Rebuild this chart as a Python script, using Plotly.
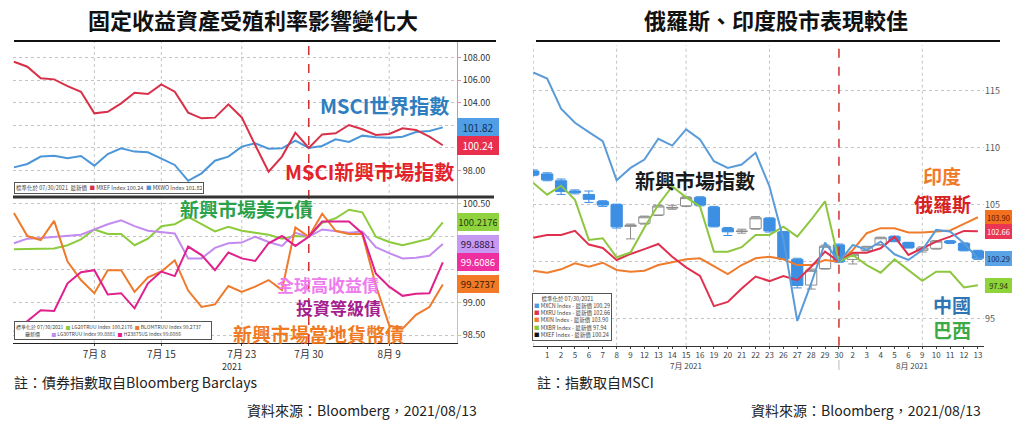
import plotly.graph_objects as go

W, H = 1024, 425
CJK = "Noto Sans CJK TC"

# trading days shown on both charts
dates = ["2021-06-30", "2021-07-01", "2021-07-02", "2021-07-05", "2021-07-06", "2021-07-07",
         "2021-07-08", "2021-07-09", "2021-07-12", "2021-07-13", "2021-07-14", "2021-07-15",
         "2021-07-16", "2021-07-19", "2021-07-20", "2021-07-21", "2021-07-22", "2021-07-23",
         "2021-07-26", "2021-07-27", "2021-07-28", "2021-07-29", "2021-07-30", "2021-08-02",
         "2021-08-03", "2021-08-04", "2021-08-05", "2021-08-06", "2021-08-09", "2021-08-10",
         "2021-08-11", "2021-08-12", "2021-08-13"]
week_marks = ["2021-07-08", "2021-07-15", "2021-07-23", "2021-07-30", "2021-08-09"]
week_labels = ["7月 8", "7月 15", "7月 23", "7月 30", "8月 9"]
day_labels = [d[-2:].lstrip("0") for d in dates[1:]]

# ---- left chart: equities (upper) ----
msci_world = [98.29, 98.59, 99.24, 99.32, 99.09, 99.29, 98.44, 99.47, 99.97, 99.68, 99.62,
              99.09, 98.50, 97.10, 97.76, 98.88, 99.24, 100.12, 100.41, 99.94, 99.97, 100.65,
              100.00, 100.18, 100.76, 100.53, 101.09, 100.94, 100.91, 101.00, 101.41, 101.50, 101.82]
msci_em = [107.62, 107.18, 106.15, 106.06, 105.47, 104.97, 103.06, 103.20, 103.94, 104.88, 104.76,
           105.62, 104.97, 103.12, 102.62, 102.68, 103.85, 102.70, 100.26, 97.91, 99.24, 101.35,
           100.00, 101.20, 101.30, 102.03, 101.65, 101.15, 101.24, 101.74, 101.59, 101.00, 100.24]

# ---- left chart: bonds (lower) ----
em_usd_bond = [99.81, 99.81, 99.81, 99.82, 99.87, 99.96, 100.11, 100.04, 100.04, 99.87, 99.97,
               100.16, 100.19, 100.30, 100.19, 100.08, 100.15, 100.09, 100.06, 100.03, 99.97, 100.01,
               100.00, 100.21, 100.28, 100.41, 100.37, 100.00, 99.92, 99.87, 99.92, 99.97, 100.2176]
lavender_bond = [99.90, 99.97, 99.98, 100.00, 100.01, 100.03, 100.11, 100.19, 100.25, 100.16, 100.09,
                 100.07, 100.05, 99.67, 99.67, 99.83, 99.90, 99.91, 100.00, 99.92, 99.86, 100.06,
                 100.00, 100.11, 100.08, 100.06, 100.08, 99.84, 99.75, 99.67, 99.68, 99.71, 99.8881]
magenta_bond = [98.55, 98.72, 98.88, 98.87, 99.29, 99.46, 99.49, 99.12, 99.14, 98.91, 99.29,
                99.47, 99.40, 99.85, 99.72, 99.49, 99.76, 99.67, 99.63, 99.90, 100.01, 99.86,
                100.00, 100.23, 100.23, 100.23, 100.05, 99.44, 99.24, 99.10, 99.13, 99.14, 99.6086]
em_local_bond = [100.36, 100.01, 99.95, 100.24, 99.62, 99.34, 99.14, 99.49, 99.49, 99.16, 99.38,
                 99.47, 99.64, 99.18, 98.93, 98.97, 99.25, 99.16, 99.24, 99.34, 99.19, 100.14,
                 100.00, 100.35, 100.09, 100.04, 100.04, 99.26, 98.65, 98.60, 98.81, 98.93, 99.2737]

# ---- right chart ----
china = [116.60, 116.07, 113.42, 112.19, 111.37, 110.57, 107.14, 108.23, 108.96, 110.78, 110.19,
         111.60, 110.72, 108.81, 108.23, 108.52, 109.55, 106.60, 102.00, 94.80, 98.09, 101.68,
         100.00, 101.47, 101.03, 101.76, 100.65, 100.15, 101.03, 102.79, 102.65, 101.62, 100.29]
russia = [102.10, 102.34, 102.34, 102.70, 101.50, 101.20, 100.15, 100.68, 101.10, 101.55, 100.44,
          99.50, 98.75, 96.10, 96.47, 97.65, 98.70, 98.30, 98.74, 98.38, 99.56, 100.88,
          100.00, 100.79, 100.79, 101.18, 102.20, 100.59, 101.18, 101.76, 102.20, 102.70, 102.66]
india = [99.21, 99.03, 99.33, 99.86, 99.56, 99.91, 99.27, 99.12, 99.21, 99.71, 99.95,
         100.21, 100.30, 99.62, 98.92, 99.71, 100.30, 100.44, 100.21, 99.70, 99.70, 100.15,
         100.00, 101.03, 102.50, 102.94, 102.94, 102.56, 102.56, 102.65, 102.74, 103.32, 103.90]
brazil = [106.90, 105.88, 106.67, 105.44, 101.91, 102.06, 100.39, 100.80, 103.00, 105.00, 106.60,
          105.64, 104.85, 100.88, 100.88, 101.27, 102.35, 102.35, 103.08, 102.20, 103.68, 105.30,
          100.00, 100.59, 99.70, 99.03, 100.20, 99.26, 98.32, 99.12, 99.12, 97.74, 97.94]
em_open = [107.95, 107.70, 107.10, 106.20, 105.90, 105.27, 105.00, 103.10, 103.37, 104.10, 104.70,
           104.90, 105.62, 104.77, 102.93, 102.65, 102.90, 103.80, 102.60, 100.20, 97.95, 99.40,
           101.47, 100.20, 101.00, 101.50, 102.20, 101.67, 101.00, 101.17, 101.80, 101.60, 100.94]
em_close = [107.62, 107.18, 106.15, 106.06, 105.47, 104.97, 103.06, 103.20, 103.94, 104.88, 104.76,
            105.62, 104.97, 103.12, 102.62, 102.68, 103.85, 102.70, 100.26, 97.91, 99.24, 101.35,
            100.00, 100.65, 101.30, 102.10, 101.80, 101.23, 101.20, 101.80, 101.67, 101.00, 100.30]
em_high = [108.05, 107.80, 107.25, 106.30, 106.20, 105.35, 105.05, 103.30, 104.00, 104.95, 104.95,
           105.70, 105.70, 104.85, 103.00, 102.85, 103.95, 103.85, 102.65, 100.30, 99.35, 101.45,
           101.55, 100.75, 101.35, 102.15, 102.25, 101.70, 101.30, 101.85, 101.85, 101.65, 101.00]
em_low = [107.55, 107.10, 105.90, 105.95, 105.20, 104.85, 102.95, 102.00, 103.30, 104.05, 104.60,
          104.85, 104.90, 103.05, 102.30, 102.50, 102.85, 102.60, 100.20, 97.70, 97.60, 99.35,
          99.95, 99.80, 100.95, 101.45, 101.75, 101.20, 100.85, 101.10, 101.60, 100.95, 100.20]


def px(x):
    return x / W


def py(y):
    return 1 - y / H


def line(name, ys, color, xa, ya):
    return go.Scatter(x=dates, y=ys, name=name, mode="lines", xaxis=xa, yaxis=ya,
                      line=dict(color=color, width=2), showlegend=False, hoverinfo="skip")


fig = go.Figure()

fig.add_trace(line("MXWO", msci_world, "#4b95d9", "x", "y"))
fig.add_trace(line("MXEF", msci_em, "#d93049", "x", "y"))

fig.add_trace(line("LG20TRUU", em_usd_bond, "#8ccb3c", "x2", "y2"))
fig.add_trace(line("LG30TRUU", lavender_bond, "#c38af0", "x2", "y2"))
fig.add_trace(line("BLOMTRUU", em_local_bond, "#ee7a2c", "x2", "y2"))
fig.add_trace(line("H23875US", magenta_bond, "#e0208c", "x2", "y2"))

fig.add_trace(go.Candlestick(x=dates, open=em_open, high=em_high, low=em_low, close=em_close,
                             xaxis="x3", yaxis="y3", showlegend=False, whiskerwidth=0.8,
                             increasing=dict(line=dict(color="#8c8c8c", width=1), fillcolor="white"),
                             decreasing=dict(line=dict(color="#3d8fe3", width=1), fillcolor="#3d8fe3")))
fig.add_trace(line("MXIN", india, "#ef7d2d", "x3", "y3"))
fig.add_trace(line("MXRU", russia, "#e0304e", "x3", "y3"))
fig.add_trace(line("MXBR", brazil, "#8dc63f", "x3", "y3"))
fig.add_trace(line("MXCN", china, "#5a9bd8", "x3", "y3"))

tick_font = dict(family=CJK, size=9, color="#333333")
grid = dict(showgrid=True, gridcolor="#c4c4c4", griddash="dot", gridwidth=1, zeroline=False)

fig.update_layout(
    width=W, height=H, margin=dict(l=0, r=0, t=0, b=0),
    paper_bgcolor="white", plot_bgcolor="white",
    font=dict(family=CJK), boxgap=0.1, boxgroupgap=0.1,
    xaxis=dict(domain=[px(13), px(457)], anchor="y", type="category", range=[-0.07, 33.06],
               showticklabels=False, showgrid=False, zeroline=False, fixedrange=True),
    yaxis=dict(domain=[py(196), py(42)], anchor="x", range=[95.76, 109.36], side="right",
               tickvals=[98, 100, 102, 104, 106, 108],
               ticktext=["98.00", "", "", "104.00", "106.00", "108.00"],
               showline=True, linecolor="#e58a98", ticks="outside", ticklen=3, tickcolor="#e58a98",
               tickfont=tick_font, **grid),
    xaxis2=dict(domain=[px(13), px(457)], anchor="y2", type="category", range=[-0.07, 33.06],
                tickvals=week_marks, ticktext=week_labels, showgrid=False, zeroline=False,
                showline=True, linecolor="#222222", ticks="outside", ticklen=2,
                tickfont=dict(family=CJK, size=10, color="#333333")),
    yaxis2=dict(domain=[py(343), py(198)], anchor="x2", range=[98.382, 100.589], side="right",
                tickvals=[98.5, 99, 99.5, 100, 100.5],
                ticktext=["98.50", "99.00", "", "", "100.50"],
                showline=True, linecolor="#b5d68a", ticks="outside", ticklen=3, tickcolor="#b5d68a",
                tickfont=tick_font, **grid),
    xaxis3=dict(domain=[px(533), px(984)], anchor="y3", type="category", range=[-0.02, 32.44],
                tickvals=dates[1:], ticktext=day_labels, tickangle=0, showgrid=False, zeroline=False,
                showline=True, linecolor="#333333", ticks="outside", ticklen=2,
                tickfont=dict(family=CJK, size=8, color="#444444"),
                rangeslider=dict(visible=False)),
    yaxis3=dict(domain=[py(345.7), py(45)], anchor="x3", range=[92.63, 119.01], side="right",
                tickvals=[95, 100, 105, 110, 115], ticktext=["95", "", "105", "110", "115"],
                showline=False, ticks="", tickfont=dict(family=CJK, size=9, color="#555555"), **grid),
)

shapes = []
# weekly dotted verticals
for d in ["2021-07-08", "2021-07-15", "2021-07-23", "2021-08-09"]:
    shapes.append(dict(type="line", xref="x", yref="paper", x0=d, x1=d, y0=py(343), y1=py(42),
                       line=dict(color="#c4c4c4", width=1, dash="dot"), layer="below"))
for d in ["2021-06-30", "2021-07-08", "2021-07-15", "2021-07-23", "2021-08-09"]:
    shapes.append(dict(type="line", xref="x3", yref="paper", x0=d, x1=d, y0=py(345.7), y1=py(45),
                       line=dict(color="#c4c4c4", width=1, dash="dot"), layer="below"))
# rebasing date
shapes.append(dict(type="line", xref="x", yref="paper", x0="2021-07-30", x1="2021-07-30",
                   y0=py(343), y1=py(42), line=dict(color="#d03030", width=1.5, dash="dash")))
shapes.append(dict(type="line", xref="x3", yref="paper", x0="2021-07-30", x1="2021-07-30",
                   y0=py(345.7), y1=py(45), line=dict(color="#d03030", width=1.5, dash="dash")))
shapes.append(dict(type="line", xref="x3", yref="paper", x0="2021-07-30", x1="2021-07-30",
                   y0=py(360), y1=py(370), line=dict(color="#bbbbbb", width=1)))
# title rules and panel separator
shapes.append(dict(type="line", xref="paper", yref="paper", x0=px(14), x1=px(496), y0=py(41), y1=py(41),
                   line=dict(color="#111111", width=2)))
shapes.append(dict(type="line", xref="paper", yref="paper", x0=px(536), x1=px(1000), y0=py(41), y1=py(41),
                   line=dict(color="#111111", width=2)))
shapes.append(dict(type="line", xref="paper", yref="paper", x0=px(13), x1=px(494), y0=py(197), y1=py(197),
                   line=dict(color="#333333", width=3)))
fig.update_layout(shapes=shapes)

ann = []


def text(x, y, s, size, color, xanchor="center", weight="normal"):
    ann.append(dict(x=px(x), y=py(y), xref="paper", yref="paper", text=s, showarrow=False,
                    xanchor=xanchor, yanchor="middle",
                    font=dict(family=CJK, size=size, color=color, weight=weight)))


# titles and notes
text(253, 19, "固定收益資產受殖利率影響變化大", 22, "#111111", weight="bold")
text(776, 19, "俄羅斯、印度股市表現較佳", 22, "#111111", weight="bold")
text(12, 382, "註：債券指數取自Bloomberg Barclays", 14, "#222222", xanchor="left")
text(362, 410, "資料來源：Bloomberg，2021/08/13", 14, "#222222")
text(535, 382, "註：指數取自MSCI", 14, "#222222", xanchor="left")
text(866, 410, "資料來源：Bloomberg，2021/08/13", 14, "#222222")
text(232, 366, "2021", 9, "#333333")
text(686, 365, "7月 2021", 8, "#444444")
text(912, 365, "8月 2021", 8, "#444444")

# series names written on the charts
text(384, 106, "MSCI世界指數", 20, "#2e7ebf", weight="bold")
text(369, 171, "MSCI新興市場指數", 20, "#e3222b", weight="bold")
text(246, 208, "新興市場美元債", 19, "#2aa24c", weight="bold")
text(328, 284, "全球高收益債", 17, "#ee7cee", weight="bold")
text(338, 307, "投資等級債", 17, "#a3208e", weight="bold")
text(318, 333, "新興市場當地貨幣債", 19, "#f07a22", weight="bold")
text(695, 180, "新興市場指數", 20, "#1a1a1a", weight="bold")
text(942, 176, "印度", 19, "#f07a2a", weight="bold")
text(942, 203, "俄羅斯", 19, "#d62222", weight="bold")
text(952, 304, "中國", 19, "#2e75b6", weight="bold")
text(952, 329, "巴西", 19, "#3aaa45", weight="bold")


# last-value tags on the value axes
def tag(x, yref, value, label, bg, fg, width, size):
    ann.append(dict(x=px(x), y=value, xref="paper", yref=yref, text=label, showarrow=False,
                    xanchor="center", yanchor="middle", bgcolor=bg, bordercolor=bg, borderpad=1,
                    width=width, font=dict(family=CJK, size=size, color=fg)))


tag(478, "y", msci_world[-1], "101.82", "#4f9ee6", "#13305a", 38, 10)
tag(478, "y", msci_em[-1], "100.24", "#e8304e", "white", 38, 10)
tag(478, "y2", em_usd_bond[-1], "100.2176", "#8fd43e", "#1f3a0a", 38, 9.5)
tag(478, "y2", lavender_bond[-1], "99.8881", "#c69af2", "#2a1040", 38, 9.5)
tag(478, "y2", magenta_bond[-1], "99.6086", "#ee2fa0", "white", 38, 9.5)
tag(478, "y2", em_local_bond[-1], "99.2737", "#f27a26", "#3a1800", 38, 9.5)
tag(998, "y3", india[-1], "103.90", "#f2701e", "#5a1400", 23, 7.5)
tag(998, "y3", russia[-1], "102.66", "#ea3555", "white", 23, 7.5)
tag(998, "y3", china[-1], "100.29", "#5aa2e6", "#13305a", 23, 7.5)
tag(998, "y3", brazil[-1], "97.94", "#8ed43a", "#1f3a0a", 23, 7.5)


# bloomberg style legend boxes
def sq(color):
    return f"<span style='color:{color}'>■</span>"


def legend_box(x, y, w, s, size):
    ann.append(dict(x=px(x), y=py(y), xref="paper", yref="paper", text=s, showarrow=False,
                    xanchor="left", yanchor="top", align="left", width=w, bgcolor="white",
                    bordercolor="#555555", borderwidth=1, borderpad=1,
                    font=dict(family=CJK, size=size, color="#444444")))


sp = "&nbsp;"
legend_box(14, 182, 186, "標準化於 07/30/2021  最新價  " + sq("#d93049") + " MXEF Index 100.24  "
           + sq("#4b95d9") + " MXWO Index 101.82", 5.5)
legend_box(14, 321, 194, "標準化於 07/30/2021  " + sq("#8ccb3c") + " LG20TRUU Index 100.2176  "
           + sq("#ee7a2c") + " BLOMTRUU Index 99.2737<br>" + sp * 8 + "最新價" + sp * 10
           + sq("#c38af0") + " LG30TRUU Index 99.8881  " + sq("#e0208c") + " H23875US Index 99.6086", 5)
legend_box(532, 293, 76, sp * 6 + "標準化於 07/30/2021<br>"
           + sq("#4a9be0") + " MXCN Index - 最新價 100.29<br>"
           + sq("#e0304e") + " MXRU Index - 最新價 102.66<br>"
           + sq("#ef7d2d") + " MXIN Index - 最新價 103.90<br>"
           + sq("#8dc63f") + " MXBR Index - 最新價 97.94<br>"
           + sq("#111111") + " MXEF Index - 最新價 100.24", 5.5)

fig.update_layout(annotations=ann)

# the page body has a default margin; drop it so the figure sits at the window's corner
fig.write_html("out.html", config={"displayModeBar": False},
               post_script="document.body.style.margin='0';")
